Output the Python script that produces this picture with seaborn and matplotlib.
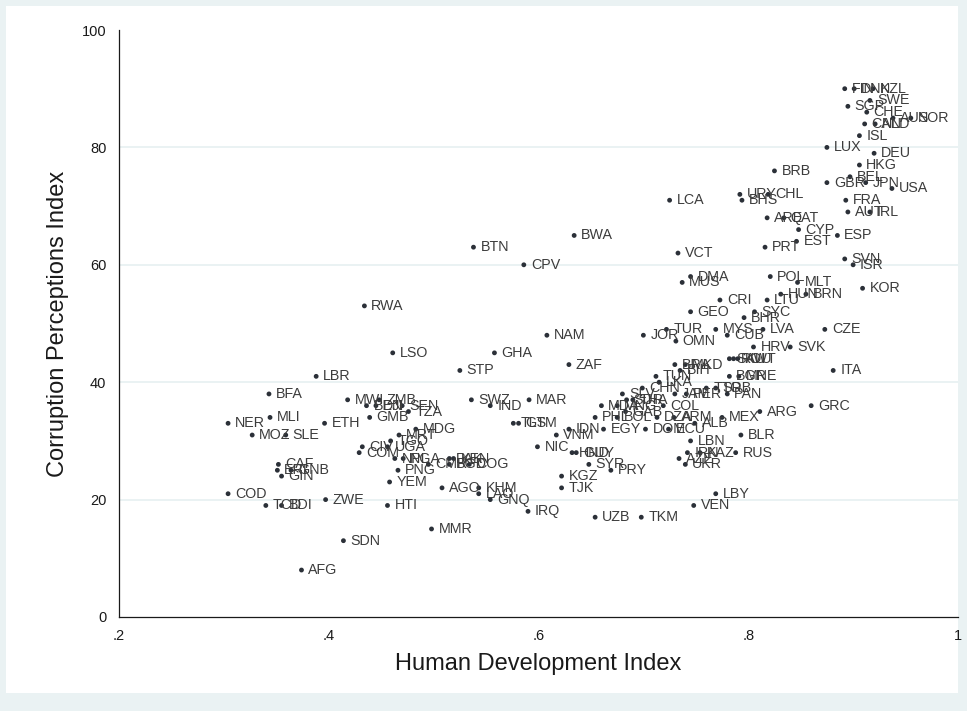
import matplotlib
matplotlib.use("Agg")
import matplotlib.pyplot as plt
import seaborn as sns
import pandas as pd
from matplotlib.patches import Rectangle

# Country ISO codes, Human Development Index and Corruption Perceptions Index
countries = [
    "FIN", "DNK", "NZL", "SWE", "SGP", "CHE", "AUS", "NOR", "CAN", "NLD",
    "ISL", "LUX", "DEU", "HKG", "BRB", "BEL", "GBR", "JPN", "USA", "URY",
    "CHL", "BHS", "FRA", "LCA", "AUT", "IRL", "ARE", "QAT", "CYP", "BWA",
    "ESP", "EST", "BTN", "PRT", "VCT", "SVN", "CPV", "ISR", "DMA", "POL",
    "MLT", "MUS", "KOR", "HUN", "BRN", "CRI", "LTU", "RWA", "GEO", "SYC",
    "BHR", "CZE", "LVA", "MYS", "TUR", "CUB", "JOR", "NAM", "OMN", "HRV",
    "SVK", "GHA", "LSO", "KWT", "ROU", "SAU", "BRA", "MKD", "ZAF", "BIH",
    "ITA", "STP", "BGR", "MNE", "TUN", "LBR", "LKA", "CHN", "SRB", "TTO",
    "BFA", "SLV", "JAM", "PAN", "PER", "MWI", "MAR", "SUR", "SWZ", "THA",
    "ZMB", "BEN", "COL", "DJI", "GRC", "IND", "MDA", "MNG", "SEN", "ARG",
    "GAB", "TZA", "BOL", "DZA", "GMB", "MEX", "MLI", "PHL", "ARM", "ALB",
    "ETH", "GTM", "NER", "TLS", "DOM", "ECU", "EGY", "IDN", "MDG", "BLR",
    "MRT", "MOZ", "SLE", "VNM", "LBN", "TGO", "CIV", "NIC", "UGA", "COM",
    "GUY", "HND", "IRN", "KAZ", "RUS", "AZE", "KEN", "NPL", "NGA", "PAK",
    "BGD", "CMR", "CAF", "COG", "SYR", "UKR", "ERI", "GNB", "PNG", "PRY",
    "GIN", "KGZ", "YEM", "AGO", "KHM", "TJK", "COD", "LAO", "LBY", "GNQ",
    "ZWE", "BDI", "TCD", "HTI", "VEN", "IRQ", "TKM", "UZB", "MMR", "SDN",
    "AFG",
]

hdi = [
    0.892, 0.901, 0.919, 0.916, 0.895, 0.913, 0.938, 0.955, 0.911, 0.921,
    0.906, 0.875, 0.920, 0.906, 0.825, 0.897, 0.875, 0.912, 0.937, 0.792,
    0.819, 0.794, 0.893, 0.725, 0.895, 0.916, 0.818, 0.834, 0.848, 0.634,
    0.885, 0.846, 0.538, 0.816, 0.733, 0.892, 0.586, 0.900, 0.745, 0.821,
    0.847, 0.737, 0.909, 0.831, 0.855, 0.773, 0.818, 0.434, 0.745, 0.806,
    0.796, 0.873, 0.814, 0.769, 0.722, 0.780, 0.700, 0.608, 0.731, 0.805,
    0.840, 0.558, 0.461, 0.790, 0.786, 0.782, 0.730, 0.740, 0.629, 0.735,
    0.881, 0.525, 0.782, 0.791, 0.712, 0.388, 0.715, 0.699, 0.769, 0.760,
    0.343, 0.680, 0.730, 0.780, 0.741, 0.418, 0.591, 0.684, 0.536, 0.690,
    0.448, 0.436, 0.719, 0.445, 0.860, 0.554, 0.660, 0.675, 0.470, 0.811,
    0.683, 0.476, 0.675, 0.713, 0.439, 0.775, 0.344, 0.654, 0.729, 0.749,
    0.396, 0.581, 0.304, 0.576, 0.702, 0.724, 0.662, 0.629, 0.483, 0.793,
    0.467, 0.327, 0.359, 0.617, 0.745, 0.459, 0.432, 0.599, 0.456, 0.429,
    0.636, 0.632, 0.742, 0.754, 0.788, 0.734, 0.519, 0.463, 0.471, 0.515,
    0.515, 0.495, 0.352, 0.534, 0.648, 0.740, 0.351, 0.364, 0.466, 0.669,
    0.355, 0.622, 0.458, 0.508, 0.543, 0.622, 0.304, 0.543, 0.769, 0.554,
    0.397, 0.355, 0.340, 0.456, 0.748, 0.590, 0.698, 0.654, 0.498, 0.414,
    0.374,
]

cpi = [
    90, 90, 90, 88, 87, 86, 85, 85, 84, 84,
    82, 80, 79, 77, 76, 75, 74, 74, 73, 72,
    72, 71, 71, 71, 69, 69, 68, 68, 66, 65,
    65, 64, 63, 63, 62, 61, 60, 60, 58, 58,
    57, 57, 56, 55, 55, 54, 54, 53, 52, 52,
    51, 49, 49, 49, 49, 48, 48, 48, 47, 46,
    46, 45, 45, 44, 44, 44, 43, 43, 43, 42,
    42, 42, 41, 41, 41, 41, 40, 39, 39, 39,
    38, 38, 38, 38, 38, 37, 37, 37, 37, 37,
    37, 36, 36, 36, 36, 36, 36, 36, 36, 35,
    35, 35, 34, 34, 34, 34, 34, 34, 34, 33,
    33, 33, 33, 33, 32, 32, 32, 32, 32, 31,
    31, 31, 31, 31, 30, 30, 29, 29, 29, 28,
    28, 28, 28, 28, 28, 27, 27, 27, 27, 27,
    26, 26, 26, 26, 26, 26, 25, 25, 25, 25,
    24, 24, 23, 22, 22, 22, 21, 21, 21, 20,
    20, 19, 19, 19, 19, 18, 17, 17, 15, 13,
    8,
]

x_ticks = [0.2, 0.4, 0.6, 0.8, 1.0]
x_ticklabels = [".2", ".4", ".6", ".8", "1"]
y_ticks = [0, 20, 40, 60, 80, 100]

df = pd.DataFrame({"country": countries, "hdi": hdi, "cpi": cpi})

sns.set_style("white")
plt.rcParams["font.family"] = ["Liberation Sans", "DejaVu Sans"]

outer_bg = "#eaf2f3"
dot_color = "#2b3038"
label_color = "#3c3c3c"
axis_color = "#1a1a1a"

W, H = 967, 711
fig = plt.figure(figsize=(W / 100, H / 100), dpi=100, facecolor=outer_bg)

# inner white graph region, kept behind the axes
fig.patches.append(Rectangle((6 / W, 18 / H), (958 - 6) / W, (705 - 18) / H,
                             transform=fig.transFigure, facecolor="white",
                             edgecolor="none", zorder=-10))

ax = fig.add_axes([119 / W, (H - 617) / H, (958 - 119) / W, (617 - 30) / H])
ax.set_zorder(1)
ax.set_facecolor("white")

for yv in [20, 40, 60, 80]:
    ax.axhline(yv, color=outer_bg, lw=1.4, zorder=0)

sns.scatterplot(data=df, x="hdi", y="cpi", ax=ax, color=dot_color, s=12,
                edgecolor="none", linewidth=0, zorder=3, legend=False)

for name, xv, yv in zip(df["country"], df["hdi"], df["cpi"]):
    ax.annotate(name, (xv, yv), xytext=(5.0, 0), textcoords="offset points",
                ha="left", va="center", fontsize=10.3, color=label_color,
                zorder=4)

ax.set_xlim(0.2, 1.0)
ax.set_ylim(0, 100)
ax.set_xticks(x_ticks)
ax.set_xticklabels(x_ticklabels)
ax.set_yticks(y_ticks)
ax.set_yticklabels([str(v) for v in y_ticks])

for side in ["top", "right"]:
    ax.spines[side].set_visible(False)
for side in ["left", "bottom"]:
    ax.spines[side].set_color(axis_color)
    ax.spines[side].set_linewidth(0.9)

ax.tick_params(axis="both", direction="out", length=5, width=0.9,
               color=axis_color, labelsize=10.5, labelcolor=axis_color, pad=4)

ax.set_xlabel("Human Development Index", fontsize=17, color=axis_color,
              labelpad=7)
ax.set_ylabel("Corruption Perceptions Index", fontsize=17, color=axis_color,
              labelpad=9)

fig.savefig("out.png", dpi=100, facecolor=outer_bg)
